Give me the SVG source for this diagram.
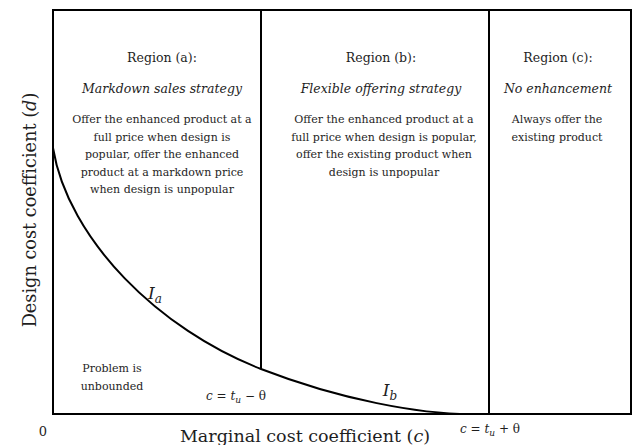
<svg xmlns="http://www.w3.org/2000/svg" width="633" height="445" viewBox="0 0 633 445">
<style>
text{font-family:"DejaVu Serif","Liberation Serif",serif;fill:#1e1e1e;text-anchor:middle}
.h{font-size:12.5px}
.s{font-size:12.5px;font-style:italic}
.b{font-size:11px}
.m{font-size:12px}
.i{font-style:italic}
.lbl{font-size:17px;font-style:italic}
.line{fill:none;stroke:#000;stroke-width:2}
</style>
<rect width="633" height="445" fill="#fff"/>
<g id="frame">
<rect class="line" x="53" y="10" width="578" height="404"/>
</g>
<g id="connectors">
<line class="line" x1="261" y1="10" x2="261" y2="369"/>
<line class="line" x1="489" y1="10" x2="489" y2="414"/>
<path id="curve" class="line" d="M53,148 C68,240 160,330 261,369 C341,400 420,414 470,414"/>
</g>
<g id="region-a">
<text class="h" x="162" y="62">Region (a):</text>
<text class="s" x="162" y="93">Markdown sales strategy</text>
<text class="b" x="162" y="123">Offer the enhanced product at a</text>
<text class="b" x="162" y="140.5">full price when design is</text>
<text class="b" x="162" y="158">popular, offer the enhanced</text>
<text class="b" x="162" y="175.5">product at a markdown price</text>
<text class="b" x="162" y="193">when design is unpopular</text>
</g>
<g id="region-b">
<text class="h" x="381" y="62">Region (b):</text>
<text class="s" x="381" y="93">Flexible offering strategy</text>
<text class="b" x="384" y="123">Offer the enhanced product at a</text>
<text class="b" x="384" y="140.5">full price when design is popular,</text>
<text class="b" x="384" y="158">offer the existing product when</text>
<text class="b" x="384" y="175.5">design is unpopular</text>
</g>
<g id="region-c">
<text class="h" x="558" y="62">Region (c):</text>
<text class="s" x="558" y="93">No enhancement</text>
<text class="b" x="557" y="123">Always offer the</text>
<text class="b" x="557" y="140.5">existing product</text>
</g>
<g id="unbounded">
<text class="b" x="112" y="372">Problem is</text>
<text class="b" x="112" y="390">unbounded</text>
</g>
<g id="curve-labels">
<text class="lbl" x="155" y="299">I<tspan class="m" dy="4">a</tspan></text>
<text class="lbl" x="390" y="396">I<tspan class="m" dy="4">b</tspan></text>
</g>
<g id="thresholds">
<text class="m" x="236" y="400"><tspan class="i">c</tspan> = <tspan class="i">t</tspan><tspan class="i" font-size="9px" dy="3">u</tspan><tspan dy="-3"> − θ</tspan></text>
<text class="m" x="490" y="433"><tspan class="i">c</tspan> = <tspan class="i">t</tspan><tspan class="i" font-size="9px" dy="3">u</tspan><tspan dy="-3"> + θ</tspan></text>
</g>
<g id="axes-labels">
<text x="43" y="436" style="font-size:13px">0</text>
<text x="305" y="442" style="font-size:17.5px">Marginal cost coefficient (<tspan class="i">c</tspan>)</text>
<text transform="translate(36,210) rotate(-90)" style="font-size:17.7px">Design cost coefficient (<tspan class="i">d</tspan>)</text>
</g>
</svg>
